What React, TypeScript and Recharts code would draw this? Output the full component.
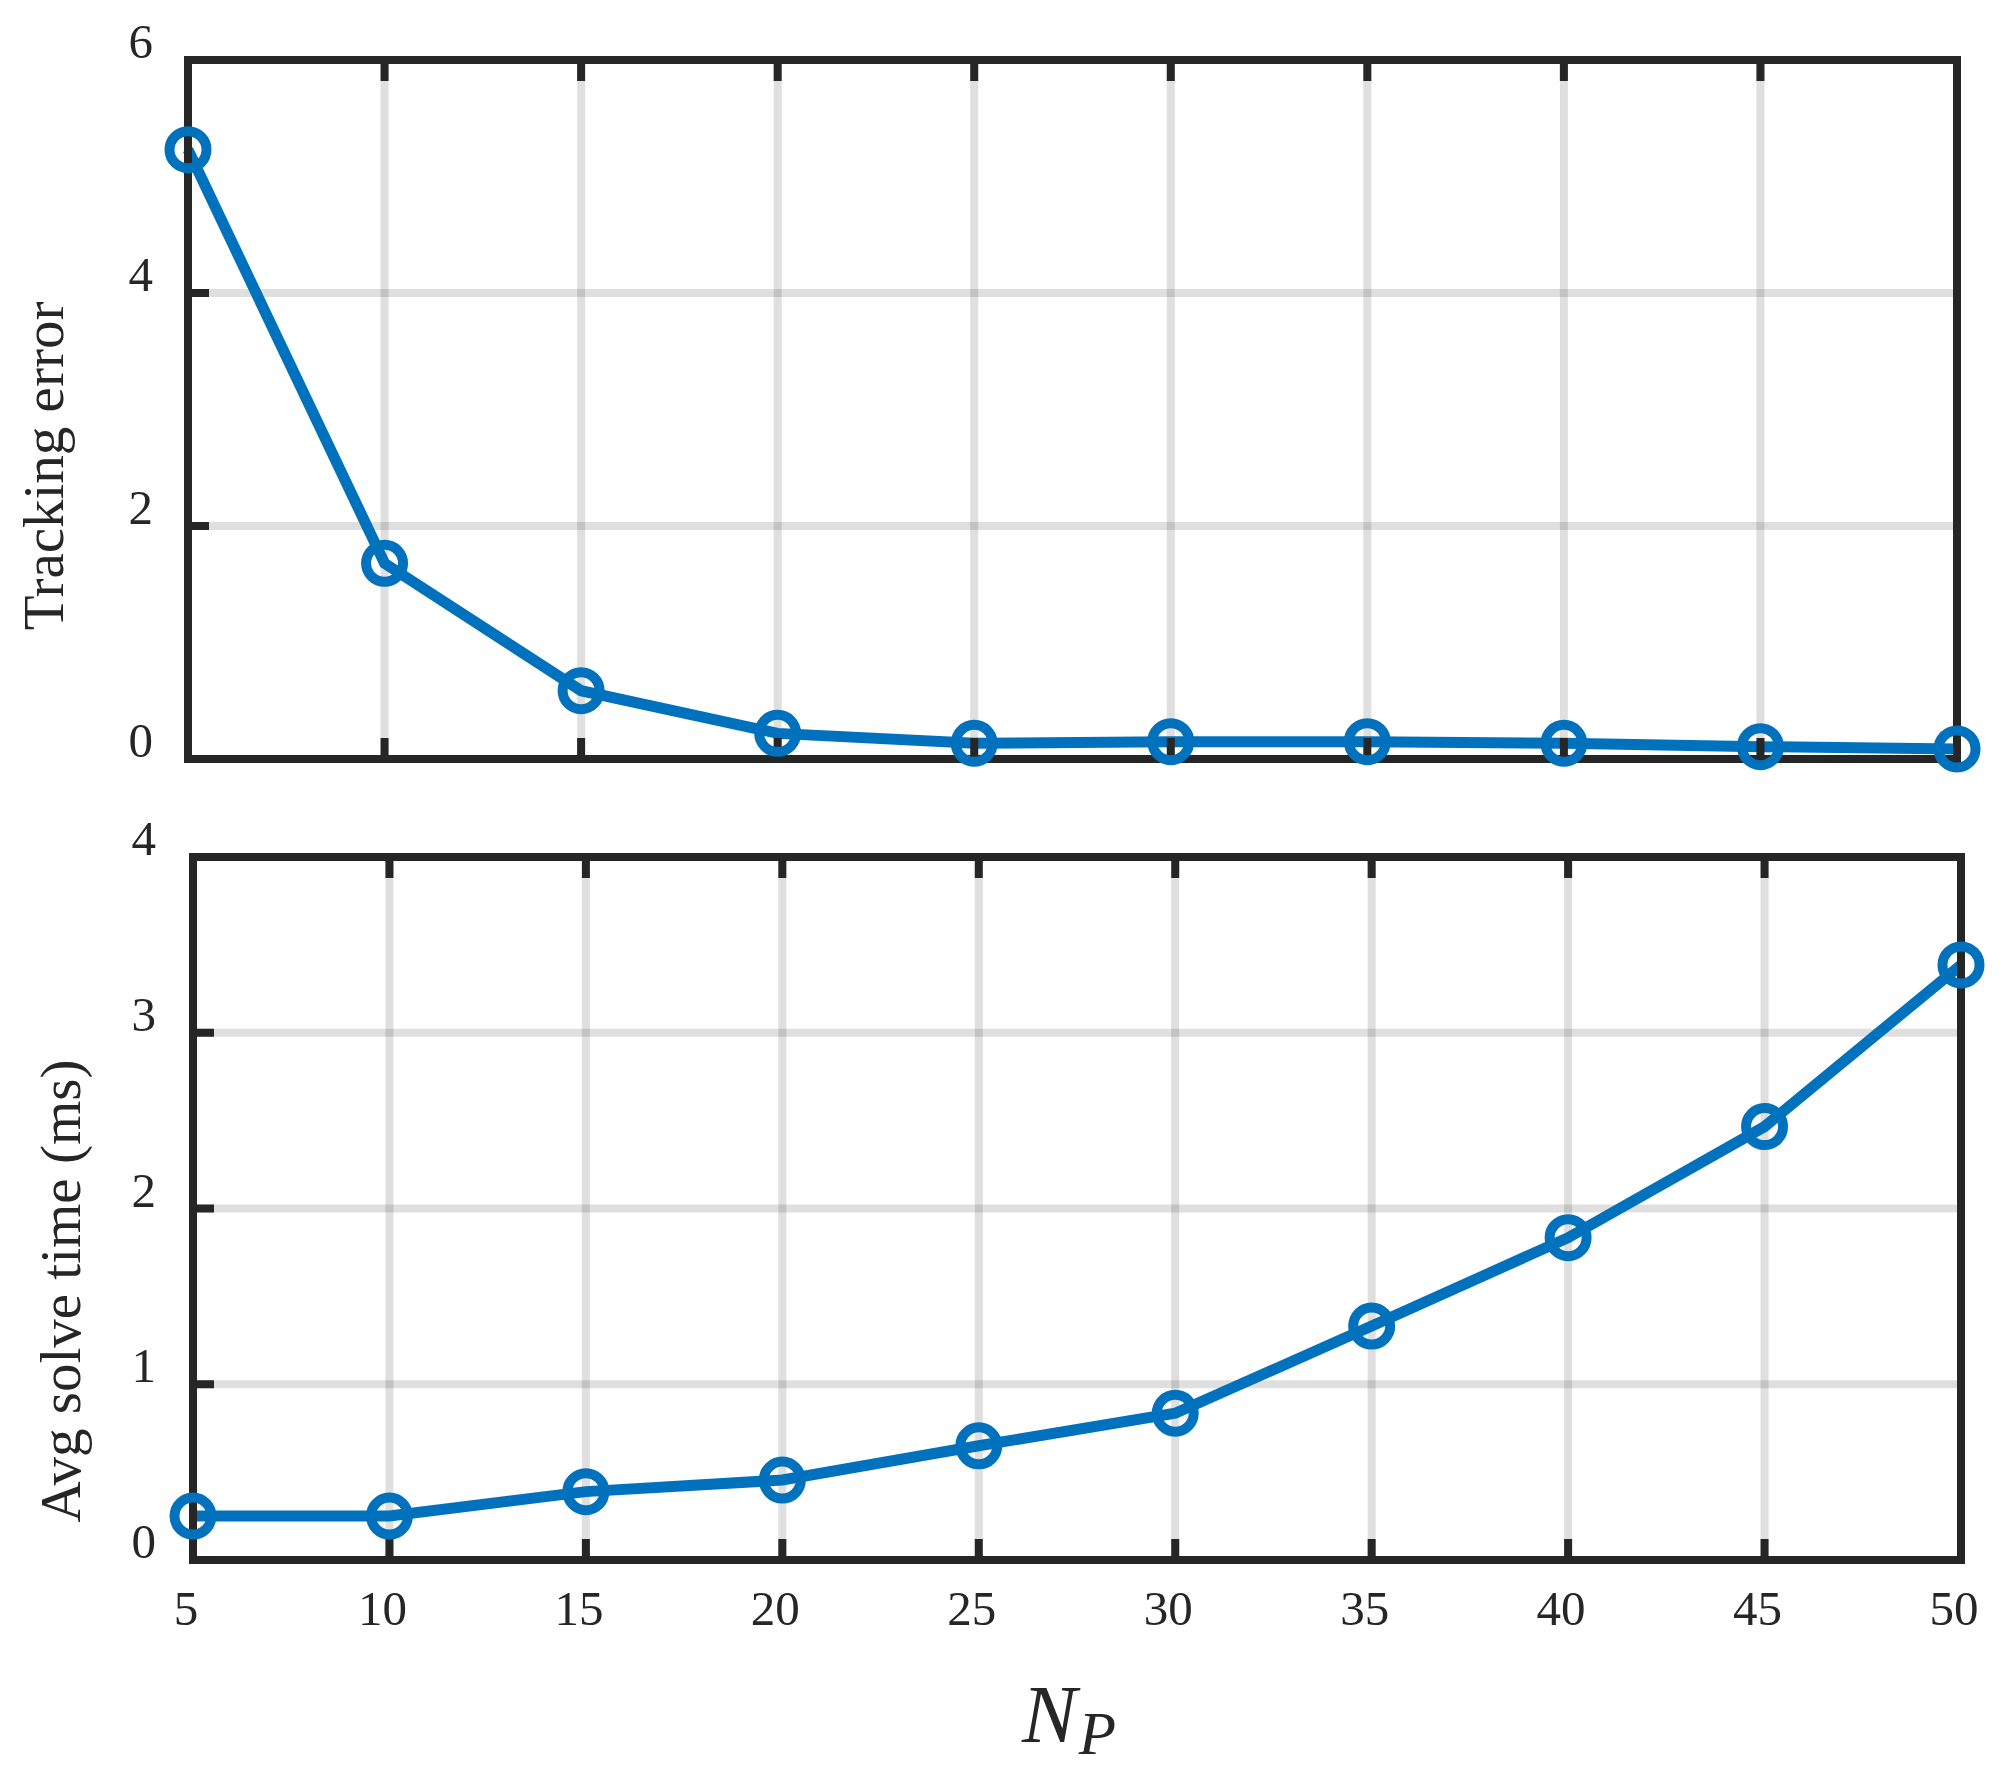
import React from "react";
import { LineChart, Line, XAxis, YAxis, CartesianGrid } from "recharts";

// horizon lengths and measured results
const horizon = [5, 10, 15, 20, 25, 30, 35, 40, 45, 50];
const trackingError = [5.23, 1.68, 0.586, 0.22, 0.135, 0.149, 0.149, 0.135, 0.106, 0.086];
const solveTime = [0.25, 0.25, 0.389, 0.455, 0.65, 0.835, 1.331, 1.834, 2.466, 3.386];

const xTicks = [5, 10, 15, 20, 25, 30, 35, 40, 45, 50];
const errorTicks = [0, 2, 4, 6];
const timeTicks = [0, 1, 2, 3, 4];

const W = 2015;
const H = 1774;
const INK = "#262626";
const BLUE = "#0072BD";
const FONT = "'Liberation Serif', 'Times New Roman', serif";
const TICK = -21;
// reserved space for the axes, taken off the margins
const AX_W = 40;
const AX_H = 30;

const data = horizon.map((np, i) => ({ np, err: trackingError[i], time: solveTime[i] }));

const axisLine = { stroke: INK, strokeWidth: 8, strokeLinecap: "square" as const };
const tickLine = { stroke: INK, strokeWidth: 8 };
const dot = { r: 18.5, stroke: BLUE, strokeWidth: 10, fill: "none" };

const YTick = ({ x, y, payload }: any) => (
  <text x={x} y={y - 2} textAnchor="end" fontFamily={FONT} fontSize={49} fill={INK}>
    {payload.value}
  </text>
);

const XTick = ({ x, y, payload }: any) => (
  <text x={x - 7} y={y} textAnchor="middle" fontFamily={FONT} fontSize={49} fill={INK}>
    {payload.value}
  </text>
);

const NoTick = () => <g />;

const yLabel = (text: string, x: number, y: number) => () => (
  <text
    x={x}
    y={y}
    transform={`rotate(-90 ${x} ${y})`}
    textAnchor="middle"
    fontFamily={FONT}
    fontSize={57}
    fill={INK}
  >
    {text}
  </text>
);

const xLabel = () => (
  <text x={1022} y={1742} fontFamily={FONT} fontStyle="italic" fontSize={82} fill={INK}>
    N
    <tspan fontSize={61} dx={2} dy={12}>
      P
    </tspan>
  </text>
);

const layer: React.CSSProperties = { position: "absolute", left: 0, top: 0 };

const plotMargin = (top: number, left: number, right: number, bottom: number) => ({
  top: top - AX_H,
  left: left - AX_W,
  right: W - right - AX_W,
  bottom: H - bottom - AX_H,
});

export default function App() {
  return (
    <div style={{ position: "absolute", left: 0, top: 0, width: W, height: H, background: "#fff" }}>
      <div style={layer}>
        <LineChart width={W} height={H} data={data} margin={plotMargin(60, 188, 1957, 759)}>
          <CartesianGrid stroke={INK} strokeOpacity={0.15} strokeWidth={8} />
          <XAxis dataKey="np" type="number" domain={[5, 50]} ticks={xTicks} height={AX_H}
            axisLine={axisLine} tickLine={tickLine} tickSize={TICK} tick={NoTick} />
          <XAxis xAxisId="top" orientation="top" dataKey="np" type="number" domain={[5, 50]} ticks={xTicks} height={AX_H}
            axisLine={axisLine} tickLine={tickLine} tickSize={TICK} tick={NoTick} />
          <YAxis type="number" domain={[0, 6]} ticks={errorTicks} width={AX_W}
            axisLine={axisLine} tickLine={tickLine} tickSize={TICK} tickMargin={56} tick={YTick}
            label={{ content: yLabel("Tracking error", 63, 466) }} />
          <YAxis yAxisId="right" orientation="right" type="number" domain={[0, 6]} ticks={errorTicks} width={AX_W}
            axisLine={axisLine} tickLine={tickLine} tickSize={TICK} tick={NoTick} />
          <Line dataKey="err" stroke={BLUE} strokeWidth={11} dot={dot} isAnimationActive={false} />
        </LineChart>
      </div>
      <div style={layer}>
        <LineChart width={W} height={H} data={data} margin={plotMargin(857, 193, 1961, 1560)}>
          <CartesianGrid stroke={INK} strokeOpacity={0.15} strokeWidth={8} />
          <XAxis dataKey="np" type="number" domain={[5, 50]} ticks={xTicks} height={AX_H}
            axisLine={axisLine} tickLine={tickLine} tickSize={TICK} tickMargin={86} tick={XTick}
            label={{ content: xLabel }} />
          <XAxis xAxisId="top" orientation="top" dataKey="np" type="number" domain={[5, 50]} ticks={xTicks} height={AX_H}
            axisLine={axisLine} tickLine={tickLine} tickSize={TICK} tick={NoTick} />
          <YAxis type="number" domain={[0, 4]} ticks={timeTicks} width={AX_W}
            axisLine={axisLine} tickLine={tickLine} tickSize={TICK} tickMargin={58} tick={YTick}
            label={{ content: yLabel("Avg solve time (ms)", 80, 1291) }} />
          <YAxis yAxisId="right" orientation="right" type="number" domain={[0, 4]} ticks={timeTicks} width={AX_W}
            axisLine={axisLine} tickLine={tickLine} tickSize={TICK} tick={NoTick} />
          <Line dataKey="time" stroke={BLUE} strokeWidth={11} dot={dot} isAnimationActive={false} />
        </LineChart>
      </div>
    </div>
  );
}
